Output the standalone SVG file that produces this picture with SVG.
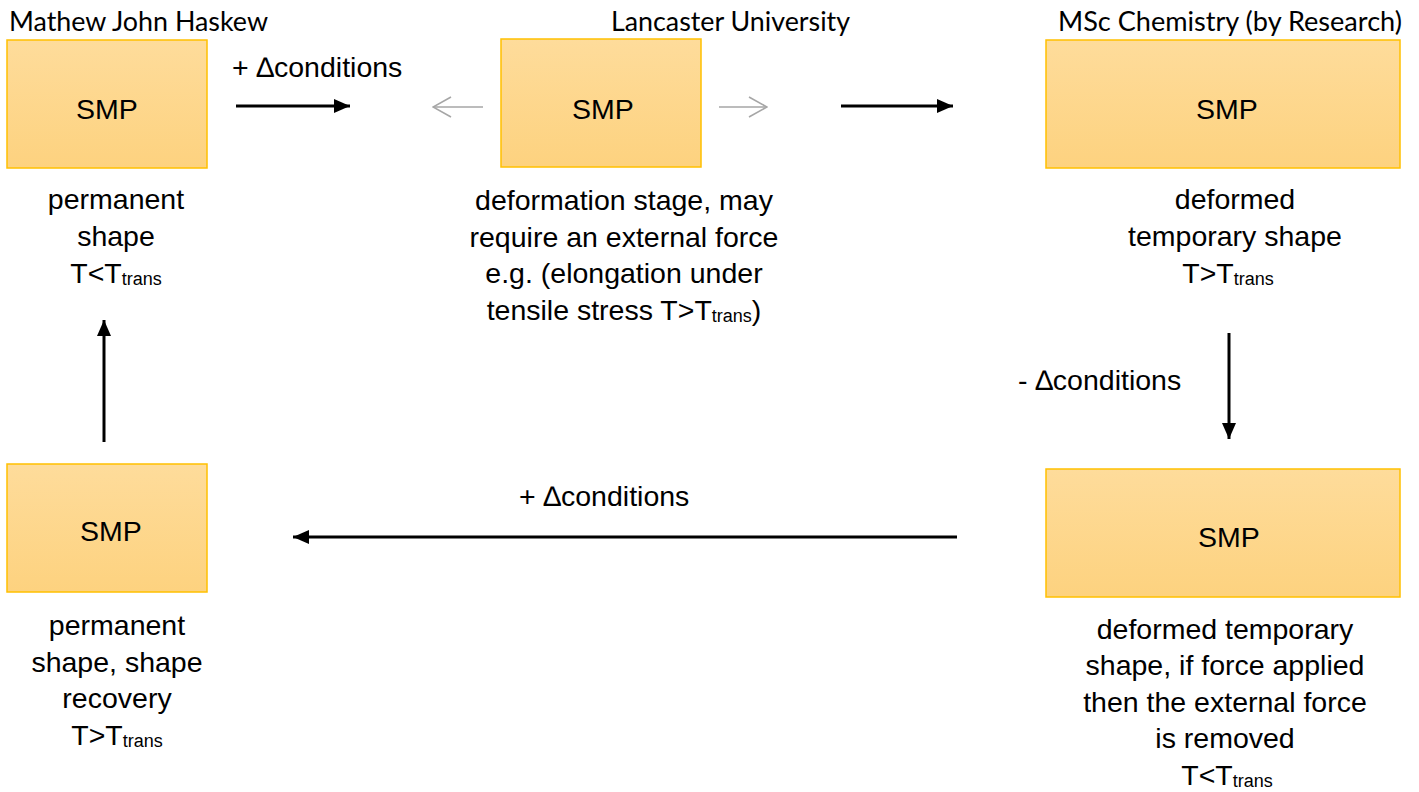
<svg xmlns="http://www.w3.org/2000/svg" width="1419" height="792" viewBox="0 0 1419 792">
  <defs>
    <linearGradient id="gold" x1="0" y1="0" x2="0" y2="1">
      <stop offset="0" stop-color="#fedc9b"/>
      <stop offset="1" stop-color="#fdd27f"/>
    </linearGradient>
    <marker id="head" markerUnits="userSpaceOnUse" viewBox="0 0 16 14" markerWidth="16" markerHeight="14" refX="16" refY="7" orient="auto">
      <path d="M0,0 L16,7 L0,14 Z" fill="#000"/>
    </marker>
    <marker id="open" markerUnits="userSpaceOnUse" viewBox="0 0 20 22" markerWidth="20" markerHeight="22" refX="19" refY="11" orient="auto">
      <path d="M1,1 L19,11 L1,21" fill="none" stroke="#a6a6a6" stroke-width="1.6"/>
    </marker>
    <style>
      .box { fill: url(#gold); stroke: #ffc000; stroke-width: 1.5; }
      .t { font-family: "Liberation Sans", Arial, sans-serif; font-size: 28.5px; fill: #000; }
      .c { text-anchor: middle; }
      .sub { font-size: 18px; }
      .hdr { font-family: Lato, "Noto Sans", sans-serif; font-size: 27px; fill: #000; }
      .conn { stroke: #000; stroke-width: 3; fill: none; marker-end: url(#head); }
      .gray { stroke: #a6a6a6; stroke-width: 1.6; fill: none; marker-end: url(#open); }
    </style>
  </defs>
  <rect width="1419" height="792" fill="#fff"/>

  <g id="headers">
    <text class="hdr" x="9" y="31" textLength="259" lengthAdjust="spacingAndGlyphs">Mathew John Haskew</text>
    <text class="hdr" x="611" y="31" textLength="239" lengthAdjust="spacingAndGlyphs">Lancaster University</text>
    <text class="hdr" x="1058" y="31" textLength="344" lengthAdjust="spacingAndGlyphs">MSc Chemistry (by Research)</text>
  </g>

  <g id="node-permanent">
    <rect class="box" x="7" y="40" width="200" height="128"/>
    <text class="t c" x="107" y="119">SMP</text>
    <text class="t c" x="116" y="209">permanent</text>
    <text class="t c" x="116" y="246">shape</text>
    <text class="t c" x="116" y="283">T&lt;T<tspan class="sub" dy="2">trans</tspan></text>
  </g>

  <g id="node-deformation">
    <rect class="box" x="501" y="39" width="200" height="128"/>
    <text class="t c" x="603" y="119">SMP</text>
    <text class="t c" x="624" y="210">deformation stage, may</text>
    <text class="t c" x="624" y="247">require an external force</text>
    <text class="t c" x="624" y="283">e.g. (elongation under</text>
    <text class="t c" x="624" y="320">tensile stress T&gt;T<tspan class="sub" dy="2">trans</tspan><tspan dy="-2">)</tspan></text>
  </g>

  <g id="node-deformed">
    <rect class="box" x="1046" y="40" width="354" height="128"/>
    <text class="t c" x="1227" y="119">SMP</text>
    <text class="t c" x="1235" y="209">deformed</text>
    <text class="t c" x="1235" y="246">temporary shape</text>
    <text class="t c" x="1228" y="283">T&gt;T<tspan class="sub" dy="2">trans</tspan></text>
  </g>

  <g id="node-removed">
    <rect class="box" x="1046" y="469" width="354" height="128"/>
    <text class="t c" x="1229" y="547">SMP</text>
    <text class="t c" x="1225" y="639">deformed temporary</text>
    <text class="t c" x="1225" y="675">shape, if force applied</text>
    <text class="t c" x="1225" y="712">then the external force</text>
    <text class="t c" x="1225" y="748">is removed</text>
    <text class="t c" x="1227" y="785">T&lt;T<tspan class="sub" dy="2">trans</tspan></text>
  </g>

  <g id="node-recovery">
    <rect class="box" x="7" y="464" width="200" height="128"/>
    <text class="t c" x="111" y="541">SMP</text>
    <text class="t c" x="117" y="635">permanent</text>
    <text class="t c" x="117" y="672">shape, shape</text>
    <text class="t c" x="117" y="708">recovery</text>
    <text class="t c" x="117" y="745">T&gt;T<tspan class="sub" dy="2">trans</tspan></text>
  </g>

  <g id="connectors">
    <line class="conn" x1="236" y1="106" x2="350" y2="106"/>
    <line class="gray" x1="483" y1="107" x2="433" y2="107"/>
    <line class="gray" x1="719" y1="107" x2="767" y2="107"/>
    <line class="conn" x1="841" y1="106" x2="953" y2="106"/>
    <line class="conn" x1="1229" y1="333" x2="1229" y2="439"/>
    <line class="conn" x1="957" y1="537" x2="293" y2="537"/>
    <line class="conn" x1="104" y1="442" x2="104" y2="320"/>
  </g>

  <g id="labels">
    <text class="t" x="232" y="77">+ ∆conditions</text>
    <text class="t" x="1018" y="390">- ∆conditions</text>
    <text class="t" x="519" y="506">+ ∆conditions</text>
  </g>
</svg>
